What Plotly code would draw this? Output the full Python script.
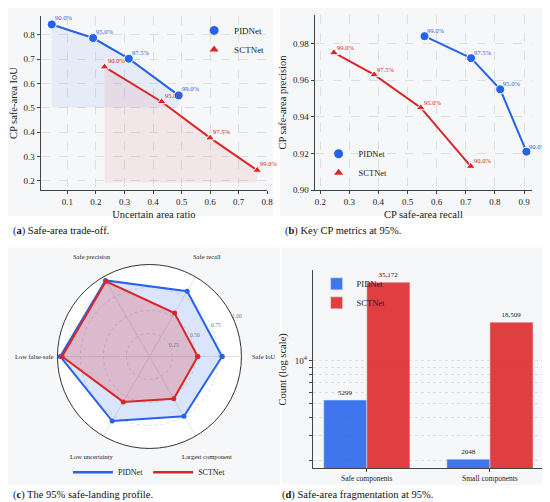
import math
import plotly.graph_objects as go

# ── data ────────────────────────────────────────────────────────────────
LEVELS = ['90.0%', '95.0%', '97.5%', '99.0%']

# (a) uncertain ratio vs CP safe-area IoU
pid_unc = [0.045, 0.19, 0.315, 0.49]
pid_iou = [0.843, 0.787, 0.702, 0.551]
sct_unc = [0.23, 0.43, 0.60, 0.765]
sct_iou = [0.668, 0.525, 0.376, 0.243]

# (b) recall vs precision
pid_rec = [0.908, 0.818, 0.718, 0.558]
pid_prec = [0.921, 0.955, 0.972, 0.984]
sct_rec = [0.717, 0.545, 0.385, 0.247]
sct_prec = [0.913, 0.945, 0.963, 0.975]

# (c) radar profile at 95%
RADAR_AXES = ['Safe IoU', 'Safe recall', 'Safe precision', 'Low false-safe',
              'Low uncertainty', 'Largest component']
pid_radar = [0.79, 0.82, 0.955, 0.97, 0.81, 0.75]
sct_radar = [0.525, 0.545, 0.945, 0.95, 0.57, 0.53]
RADIAL_TICKS = [0.25, 0.5, 0.75, 1.0]
RADIAL_LBL = ['0.25', '0.50', '0.75', '1.00']

# (d) fragmentation counts
FRAG_CATS = ['Safe components', 'Small components']
pid_counts = [5299, 2048]
sct_counts = [35172, 18509]
pid_count_lbl = ['5299', '2048']
sct_count_lbl = ['35,172', '18,509']

# ── style ───────────────────────────────────────────────────────────────
BLUE = '#2563EB'
RED = '#DC2626'
FONT = 'Liberation Serif'
PANEL_BG = '#F6F7F9'
W, H = 550, 502
RADAR_CX, RADAR_CY, RADAR_R = 143, 352, 93   # pixels


def px(x0, x1):
    return [x0 / W, x1 / W]


def py(y0, y1):
    # pixel rows (top-down) -> paper fractions
    return [1 - y1 / H, 1 - y0 / H]


def rgba(hexc, a):
    h = hexc.lstrip('#')
    r, g, b = (int(h[i:i + 2], 16) for i in (0, 2, 4))
    return f'rgba({r},{g},{b},{a})'


def radar_paper(r, deg):
    """polar (r, deg) of panel (c) -> paper coords"""
    a = math.radians(deg)
    x = RADAR_CX + r * RADAR_R * math.cos(a)
    y = RADAR_CY - r * RADAR_R * math.sin(a)
    return x / W, 1 - y / H


fig = go.Figure()

# ── (a) trade-off ───────────────────────────────────────────────────────
for xs, ys, col, sym, name in [(pid_unc, pid_iou, BLUE, 'circle', 'PIDNet'),
                                (sct_unc, sct_iou, RED, 'triangle-up', 'SCTNet')]:
    base = min(ys) - 0.05
    fig.add_trace(go.Scatter(
        x=xs + xs[::-1], y=ys + [base] * len(xs), fill='toself',
        fillcolor=rgba(col, 0.08), line=dict(width=0), mode='lines',
        hoverinfo='skip', showlegend=False, xaxis='x', yaxis='y'))
    fig.add_trace(go.Scatter(
        x=xs, y=ys, mode='lines+markers', line=dict(color=col, width=2),
        marker=dict(color=col, symbol=sym, size=9 if sym == 'circle' else 8,
                    line=dict(color='white', width=1)),
        showlegend=False, xaxis='x', yaxis='y'))
    fig.add_trace(go.Scatter(
        x=[None], y=[None], mode='markers', name=name,
        marker=dict(color=col, symbol=sym, size=9 if sym == 'circle' else 8),
        legend='legend', xaxis='x', yaxis='y'))
    for xv, yv, t in zip(xs, ys, LEVELS):
        fig.add_annotation(x=xv, y=yv, xref='x', yref='y', text=t,
                           showarrow=False, xanchor='left', yanchor='bottom',
                           xshift=1, yshift=1,
                           font=dict(size=6.5, color=col, family=FONT))

# ── (b) recall / precision ──────────────────────────────────────────────
for xs, ys, col, sym, name in [(pid_rec, pid_prec, BLUE, 'circle', 'PIDNet'),
                                (sct_rec, sct_prec, RED, 'triangle-up', 'SCTNet')]:
    fig.add_trace(go.Scatter(
        x=xs, y=ys, mode='lines+markers', line=dict(color=col, width=2),
        marker=dict(color=col, symbol=sym, size=9 if sym == 'circle' else 8,
                    line=dict(color='white', width=1)),
        showlegend=False, xaxis='x2', yaxis='y2'))
    fig.add_trace(go.Scatter(
        x=[None], y=[None], mode='markers', name=name,
        marker=dict(color=col, symbol=sym, size=9 if sym == 'circle' else 8),
        legend='legend2', xaxis='x2', yaxis='y2'))
    for xv, yv, t in zip(xs, ys, LEVELS):
        fig.add_annotation(x=xv, y=yv, xref='x2', yref='y2', text=t,
                           showarrow=False, xanchor='left', yanchor='bottom',
                           xshift=1, yshift=0,
                           font=dict(size=6.5, color=col, family=FONT))

# ── (c) radar ───────────────────────────────────────────────────────────
angles = [i * 360 / len(RADAR_AXES) for i in range(len(RADAR_AXES))]
for vals, col, alpha, name in [(pid_radar, BLUE, 0.17, 'PIDNet'),
                               (sct_radar, RED, 0.22, 'SCTNet')]:
    fig.add_trace(go.Scatterpolar(
        r=vals + vals[:1], theta=angles + angles[:1],
        mode='lines+markers', fill='toself', fillcolor=rgba(col, alpha),
        line=dict(color=col, width=2), marker=dict(color=col, size=5),
        showlegend=False, subplot='polar'))
    fig.add_trace(go.Scatterpolar(
        r=[None], theta=[None], mode='lines', name=name,
        line=dict(color=col, width=2.5), legend='legend3', subplot='polar'))

# category labels a little outside the frame
for lbl, deg in zip(RADAR_AXES, angles):
    lx, ly = radar_paper(1.25, deg)
    fig.add_annotation(x=lx, y=ly, xref='paper', yref='paper', text=lbl,
                       showarrow=False, xanchor='center', yanchor='middle',
                       font=dict(size=6.5, family=FONT, color='#222'))
# radial labels along ~25 deg
for rv, lbl in zip(RADIAL_TICKS, RADIAL_LBL):
    lx, ly = radar_paper(rv + 0.05, 25)
    fig.add_annotation(x=lx, y=ly, xref='paper', yref='paper', text=lbl,
                       showarrow=False, xanchor='center', yanchor='middle',
                       font=dict(size=5.5, family=FONT, color='#777'))

# ── (d) fragmentation bars ──────────────────────────────────────────────
fig.add_trace(go.Bar(
    x=FRAG_CATS, y=pid_counts, name='PIDNet', marker_color=rgba(BLUE, 0.88),
    text=pid_count_lbl, textposition='outside', cliponaxis=False,
    textfont=dict(size=7, color='#222', family=FONT),
    legend='legend4', xaxis='x3', yaxis='y3'))
fig.add_trace(go.Bar(
    x=FRAG_CATS, y=sct_counts, name='SCTNet', marker_color=rgba(RED, 0.88),
    text=sct_count_lbl, textposition='outside', cliponaxis=False,
    textfont=dict(size=7, color='#222', family=FONT),
    legend='legend4', xaxis='x3', yaxis='y3'))

# ── axes ────────────────────────────────────────────────────────────────
tick_font = dict(size=9, family=FONT, color='#222')
title_font = dict(size=10.5, family=FONT, color='#222')
common = dict(showline=True, linecolor='#444', linewidth=1, ticks='outside',
              ticklen=3, tickcolor='#444', tickfont=tick_font,
              showgrid=True, gridcolor='#dedede', griddash='dash',
              gridwidth=0.6, zeroline=False, mirror=False)

fig.update_layout(
    width=W, height=H, margin=dict(l=0, r=0, t=0, b=0),
    paper_bgcolor='white', plot_bgcolor='white',
    font=dict(family=FONT, color='#222'),
    barmode='group', bargap=0.3, bargroupgap=0,
    xaxis=dict(domain=px(33, 262), range=[0.006, 0.8], dtick=0.1,
               anchor='y', title=dict(text='Uncertain area ratio',
                                      font=title_font, standoff=4), **common),
    yaxis=dict(domain=py(8, 184), range=[0.161, 0.878], dtick=0.1,
               anchor='x', title=dict(text='CP safe-area IoU',
                                      font=title_font, standoff=4), **common),
    xaxis2=dict(domain=px(310, 530), range=[0.1806, 0.928], dtick=0.1,
                anchor='y2', title=dict(text='CP safe-area recall',
                                        font=title_font, standoff=4), **common),
    yaxis2=dict(domain=py(7, 184), range=[0.90, 0.9956], dtick=0.02,
                tickformat='.2f', anchor='x2',
                title=dict(text='CP safe-area precision',
                           font=title_font, standoff=4), **common),
    xaxis3=dict(domain=px(308, 542), range=[-0.44, 1.44], anchor='y3',
                showline=True, linecolor='#444', linewidth=1, ticks='outside',
                ticklen=3, tickcolor='#444', showgrid=False,
                tickfont=dict(size=7.5, family=FONT, color='#222')),
    yaxis3=dict(domain=py(265, 465), type='log', range=[3.247, 4.629],
                anchor='x3', showline=True, linecolor='#444', linewidth=1,
                tickvals=[2000, 3000, 4000, 5000, 6000, 7000, 8000, 9000, 10000],
                ticktext=[' '] * 8 + ['10<sup>4</sup>'],
                ticks='outside', ticklen=3, tickcolor='#444',
                tickfont=tick_font, showgrid=True, gridcolor='#dedede',
                griddash='dot', gridwidth=0.6,
                title=dict(text='Count (log scale)', font=title_font,
                           standoff=6)),
    polar=dict(
        domain=dict(x=px(RADAR_CX - RADAR_R, RADAR_CX + RADAR_R),
                    y=py(RADAR_CY - RADAR_R, RADAR_CY + RADAR_R)),
        bgcolor='white',
        angularaxis=dict(rotation=0, direction='counterclockwise',
                         thetaunit='degrees', tickmode='array',
                         tickvals=angles, showticklabels=False,
                         showline=True, linecolor='#333', linewidth=1,
                         gridcolor='#e4e4e4', ticks=''),
        radialaxis=dict(range=[0, 1], tickmode='array',
                        tickvals=RADIAL_TICKS, showticklabels=False,
                        showline=False, ticks='',
                        gridcolor='#dcdcdc', griddash='dot')),
    legend=dict(x=264 / W, y=1 - 8 / H, xanchor='right', yanchor='top',
                bgcolor='rgba(0,0,0,0)', font=dict(size=9, family=FONT),
                itemwidth=30, tracegroupgap=0),
    legend2=dict(x=314 / W, y=1 - 181 / H, xanchor='left', yanchor='bottom',
                 bgcolor='rgba(0,0,0,0)', font=dict(size=8.5, family=FONT),
                 itemwidth=30),
    legend3=dict(x=RADAR_CX / W, y=1 - 469 / H, xanchor='center',
                 yanchor='middle', orientation='h', bgcolor='rgba(0,0,0,0)',
                 font=dict(size=8, family=FONT), itemwidth=40),
    legend4=dict(x=312 / W, y=1 - 264 / H, xanchor='left', yanchor='top',
                 bgcolor='rgba(0,0,0,0)', font=dict(size=8.5, family=FONT),
                 itemwidth=30),
)

# panel backgrounds
for x0, x1, y0, y1 in [(0, 268, 0, 210), (275, 550, 0, 210),
                       (0, 275, 242, 482), (277, 550, 242, 482)]:
    fig.add_shape(type='rect', xref='paper', yref='paper', layer='below',
                  x0=x0 / W, x1=x1 / W, y0=1 - y1 / H, y1=1 - y0 / H,
                  fillcolor=PANEL_BG, line=dict(width=0))

# captions
for x0, yc, txt in [(3, 225, '(<b>a</b>) Safe-area trade-off.'),
                    (278, 225, '(<b>b</b>) Key CP metrics at 95%.'),
                    (3, 492, '(<b>c</b>) The 95% safe-landing profile.'),
                    (275, 492, '(<b>d</b>) Safe-area fragmentation at 95%.')]:
    fig.add_annotation(x=x0 / W, y=1 - yc / H, xref='paper', yref='paper',
                       text=txt, showarrow=False, xanchor='left',
                       yanchor='middle',
                       font=dict(size=10.5, family=FONT, color='#111'))

fig.write_html("out.html")
